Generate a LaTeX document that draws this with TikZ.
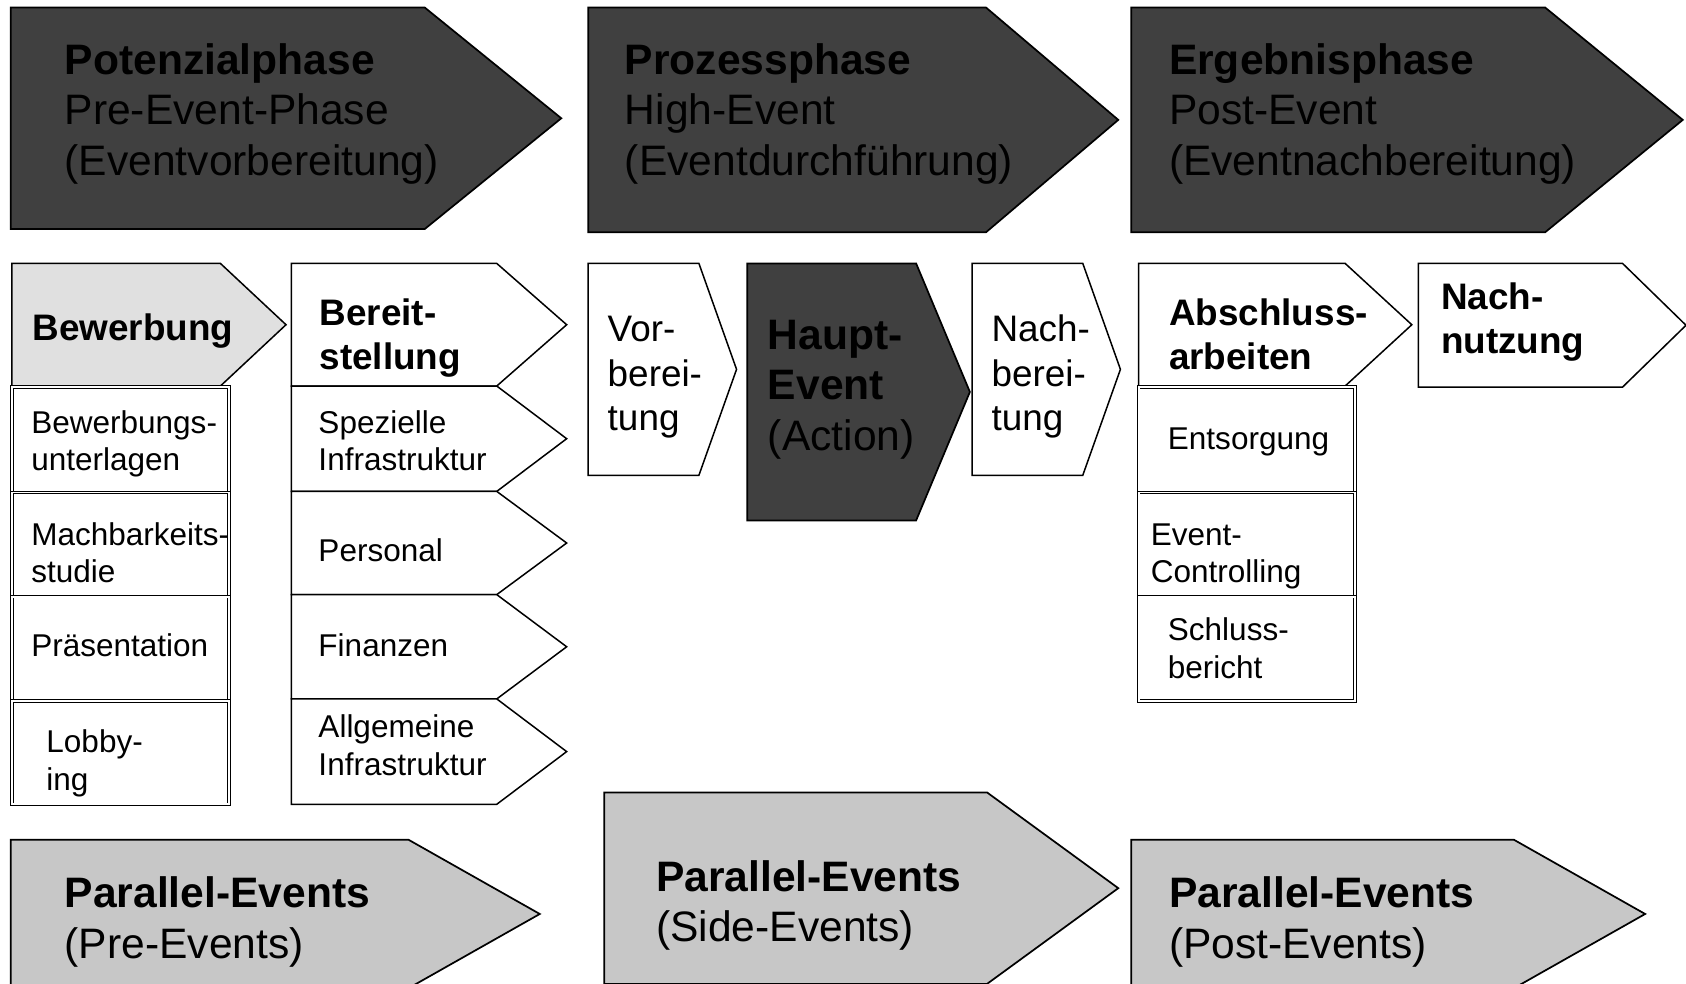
\documentclass[tikz,border=0pt]{standalone}
\usepackage{fontspec}
\setmainfont{Liberation Sans}
\usepackage{tikz}
\definecolor{phasedark}{rgb}{0.25,0.25,0.25}
\definecolor{phaselight}{rgb}{0.78,0.78,0.78}
\definecolor{stagelight}{rgb}{0.88,0.88,0.88}
\tikzstyle{phase}=[draw=black, fill=phasedark, line width=1.6]
\tikzstyle{parallel}=[draw=black, fill=phaselight, line width=1.6]
\tikzstyle{stage}=[draw=black, fill=white, line width=1.4]
\tikzstyle{stagegray}=[draw=black, fill=stagelight, line width=1.4]
\tikzstyle{taskbox}=[draw=black, double, double distance=1.6, line width=0.8]
\tikzstyle{bigtext}=[anchor=base west, align=left, inner sep=0, font=\fontsize{39.6}{47}\selectfont]
\tikzstyle{midtext}=[anchor=base west, align=left, inner sep=0, font=\fontsize{34.3}{41}\selectfont]
\tikzstyle{smalltext}=[anchor=base west, align=left, inner sep=0, font=\fontsize{29.3}{35}\selectfont]
\newcommand{\evarrow}[7]{
	\filldraw[#2] (#3,#4) -- (#5,#4) -- (#7,{(#4+#6)/2}) -- (#5,#6) -- (#3,#6) -- cycle;
	\coordinate (#1) at (#3,#4);}
\newcommand{\evbox}[5]{
	\draw[taskbox] (#2,#3) rectangle (#4,#5);
	\coordinate (#1) at (#2,#3);}

\begin{document}
\begin{tikzpicture}[x=1pt, y=-1pt]
	\useasboundingbox (0,0) rectangle (1568,915);
	\clip (0,0) rectangle (1568,915);

	% phases (text anchored at baseline of last line)
	\evarrow{pot}{phase}{10}{7}{395}{213}{522}
	\evarrow{proz}{phase}{547}{7}{917}{216}{1040}
	\evarrow{erg}{phase}{1052}{7}{1437}{216}{1565}
	\node[bigtext] (pottext) at (60,163) {\textbf{Potenzialphase}\\Pre-Event-Phase\\(Eventvorbereitung)};
	\node[bigtext] (proztext) at (581,163) {\textbf{Prozessphase}\\High-Event\\(Eventdurchführung)};
	\node[bigtext] (ergtext) at (1087,163) {\textbf{Ergebnisphase}\\Post-Event\\(Eventnachbereitung)};

	% pre-event
	\evarrow{bew}{stagegray}{11}{245}{205}{359}{266}
	\evbox{unterl}{11}{360}{213}{458}
	\evbox{machb}{11}{458}{213}{555}
	\evbox{praes}{11}{555}{213}{652}
	\evbox{lobby}{11}{652}{213}{748}
	\node[midtext] (bewtext) at (30,317) {\textbf{Bewerbung}};
	\node[smalltext] (unterltext) at (29,438) {Bewerbungs-\\unterlagen};
	\node[smalltext] (machbtext) at (29,542) {Machbarkeits-\\studie};
	\node[smalltext] (praestext) at (29,611) {Präsentation};
	\node[smalltext] (lobbytext) at (43,735) {Lobby-\\ing};

	\evarrow{bereit}{stage}{271}{245}{462}{359}{527}
	\evarrow{spez}{stage}{271}{359}{462}{457}{527}
	\evarrow{pers}{stage}{271}{457}{462}{553}{527}
	\evarrow{fin}{stage}{271}{553}{462}{650}{527}
	\evarrow{allg}{stage}{271}{650}{462}{748}{527}
	\node[midtext] (bereittext) at (297,344) {\textbf{Bereit-}\\\textbf{stellung}};
	\node[smalltext] (speztext) at (296,438) {Spezielle\\Infrastruktur};
	\node[smalltext] (perstext) at (296,522) {Personal};
	\node[smalltext] (fintext) at (296,611) {Finanzen};
	\node[smalltext] (allgtext) at (296,721) {Allgemeine\\Infrastruktur};

	% high-event
	\evarrow{vor}{stage}{547}{245}{650}{442}{685}
	\evarrow{haupt}{phase}{695}{245}{852}{484}{902}
	\evarrow{nach}{stage}{904}{245}{1007}{442}{1042}
	\node[midtext] (vortext) at (565,400) {Vor-\\berei-\\tung};
	\node[bigtext] (haupttext) at (714,419) {\textbf{Haupt-}\\\textbf{Event}\\(Action)};
	\node[midtext] (nachtext) at (922,400) {Nach-\\berei-\\tung};

	% post-event
	\evarrow{absch}{stage}{1059}{245}{1251}{359}{1313}
	\evbox{entsorg}{1059}{360}{1260}{458}
	\evbox{contr}{1059}{458}{1260}{555}
	\evbox{bericht}{1059}{555}{1260}{652}
	\evarrow{nutz}{stage}{1319}{245}{1509}{360}{1568}
	\node[midtext] (abschtext) at (1087,344) {\textbf{Abschluss-}\\\textbf{arbeiten}};
	\node[smalltext] (entsorgtext) at (1086,418) {Entsorgung};
	\node[smalltext] (contrtext) at (1070,542) {Event-\\Controlling};
	\node[smalltext] (berichttext) at (1086,631) {Schluss-\\bericht};
	\node[midtext] (nutztext) at (1340,329) {\textbf{Nach-}\\\textbf{nutzung}};

	% parallel events
	\evarrow{pre}{parallel}{10}{781}{380}{919}{502}
	\evarrow{side}{parallel}{562}{737}{918}{915}{1040}
	\evarrow{post}{parallel}{1052}{781}{1408}{919}{1530}
	\node[bigtext] (pretext) at (60,891) {\textbf{Parallel-Events}\\(Pre-Events)};
	\node[bigtext] (sidetext) at (610,876) {\textbf{Parallel-Events}\\(Side-Events)};
	\node[bigtext] (posttext) at (1087,891) {\textbf{Parallel-Events}\\(Post-Events)};
\end{tikzpicture}
\end{document}
